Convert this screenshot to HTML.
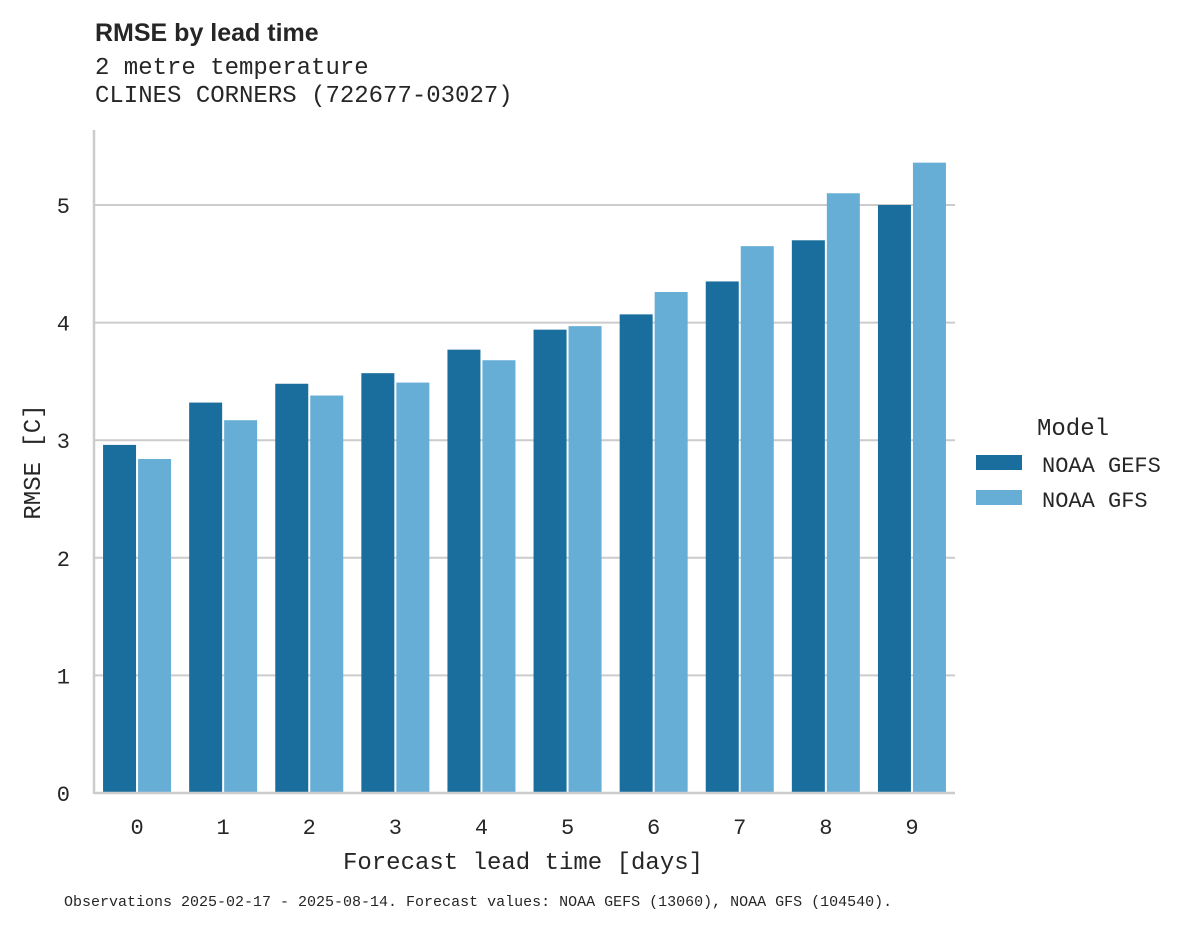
<!DOCTYPE html>
<html><head><meta charset="utf-8"><style>
body{margin:0;background:#fff;}
svg text{font-family:"Liberation Mono",monospace;fill:#262626;}
</style></head><body>
<svg width="1195" height="928" xmlns="http://www.w3.org/2000/svg">
<text x="95" y="41" style="font-family:'Liberation Sans',sans-serif;font-weight:bold;font-size:25px">RMSE by lead time</text>
<text x="95" y="74" font-size="24">2 metre temperature</text>
<text x="95" y="102" font-size="24">CLINES CORNERS (722677-03027)</text>
<g id="grid"></g><g id="bars"></g><g id="axes"></g>
<text x="523" y="869" font-size="24" text-anchor="middle">Forecast lead time [days]</text>
<text transform="translate(40,462) rotate(-90)" font-size="24" text-anchor="middle">RMSE [C]</text>
<text x="1073" y="435" font-size="24" text-anchor="middle">Model</text>
<rect x="976" y="455" width="46" height="15" fill="#1a6e9e"/>
<text x="1042" y="472" font-size="22">NOAA GEFS</text>
<rect x="976" y="490" width="46" height="15" fill="#66aed6"/>
<text x="1042" y="507" font-size="22">NOAA GFS</text>
<text x="64" y="906" font-size="15">Observations 2025-02-17 - 2025-08-14. Forecast values: NOAA GEFS (13060), NOAA GFS (104540).</text>
</svg>
<script>
const categories=["0","1","2","3","4","5","6","7","8","9"];
const gefs=[2.96,3.32,3.48,3.57,3.77,3.94,4.07,4.35,4.70,5.00];
const gfs=[2.84,3.17,3.38,3.49,3.68,3.97,4.26,4.65,5.10,5.36];
const yTicks=[0,1,2,3,4,5];
const NS="http://www.w3.org/2000/svg";
const x0=94,x1=955,y0=793,pxPerUnit=117.6;
const band=(x1-x0)/categories.length;
function y(v){return y0-v*pxPerUnit;}
function xc(i){return x0+band*(i+0.5);}
function mk(t,a,p){const e=document.createElementNS(NS,t);for(const k in a)e.setAttribute(k,a[k]);document.getElementById(p).appendChild(e);return e;}
yTicks.forEach(t=>{
 if(t>0){const g=mk("line",{x1:x0,x2:x1,y1:y(t),y2:y(t),stroke:"#cccccc","stroke-width":2},"grid");
 
 }
 const l=mk("text",{x:70,y:y(t)+8,"font-size":22,"text-anchor":"end"},"axes");l.textContent=t;
 
 
});
const bw=33;
categories.forEach((c,i)=>{
 const a=mk("rect",{x:xc(i)-bw-1,y:y(gefs[i]),width:bw,height:gefs[i]*pxPerUnit,fill:"#1a6e9e"},"bars");
 
 
 const b=mk("rect",{x:xc(i)+1,y:y(gfs[i]),width:bw,height:gfs[i]*pxPerUnit,fill:"#66aed6"},"bars");
 
 
 const t=mk("text",{x:xc(i),y:834,"font-size":22,"text-anchor":"middle"},"axes");t.textContent=c;
 
 
});
const ls=mk("line",{x1:x0,x2:x0,y1:130,y2:y0+1,stroke:"#cccccc","stroke-width":2.5},"axes");


const bs=mk("line",{x1:x0,x2:x1,y1:y0,y2:y0,stroke:"#cccccc","stroke-width":2.5},"axes");


</script>
</body></html>
